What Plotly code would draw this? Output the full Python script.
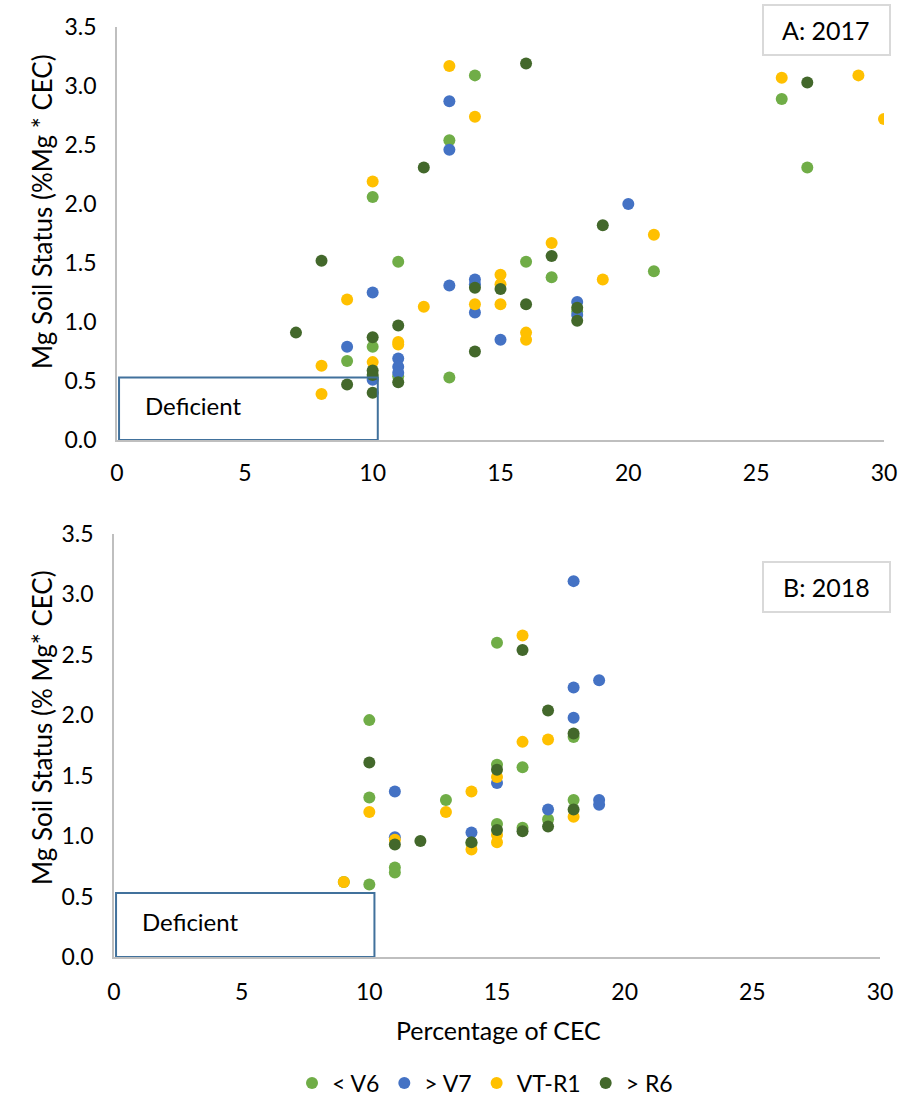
import plotly.graph_objects as go

# ---------------- data ----------------
series_names = ["< V6", "> V7", "VT-R1", "> R6"]
series_colors = ["#70AD47", "#4472C4", "#FFC000", "#43682B"]

# Panel A: 2017
a_v6_x = [14, 13, 10, 11, 16, 17, 21, 26, 27, 9, 10, 13, 18, 11, 10]
a_v6_y = [3.09, 2.54, 2.06, 1.51, 1.51, 1.38, 1.43, 2.89, 2.31, 0.67, 0.79, 0.53, 1.09, 0.54, 0.53]

a_v7_x = [13, 13, 20, 10, 13, 14, 14, 15, 18, 18, 9, 10, 11, 11, 11, 14]
a_v7_y = [2.87, 2.46, 2.00, 1.25, 1.31, 1.36, 1.08, 0.85, 1.17, 1.06, 0.79, 0.51, 0.69, 0.62, 0.57, 1.32]

a_vt_x = [13, 14, 10, 26, 29, 30, 17, 21, 19, 9, 12, 14, 15, 15, 15, 16, 16, 8, 8, 10, 11, 11]
a_vt_y = [3.17, 2.74, 2.19, 3.07, 3.09, 2.72, 1.67, 1.74, 1.36, 1.19, 1.13, 1.15, 1.40, 1.32, 1.15, 0.91, 0.85, 0.63, 0.39, 0.66, 0.83, 0.81]

a_r6_x = [16, 12, 27, 19, 8, 17, 14, 15, 16, 18, 18, 14, 7, 9, 10, 10, 10, 10, 11, 11]
a_r6_y = [3.19, 2.31, 3.03, 1.82, 1.52, 1.56, 1.29, 1.28, 1.15, 1.12, 1.01, 0.75, 0.91, 0.47, 0.87, 0.59, 0.55, 0.40, 0.97, 0.49]

# Panel B: 2018
b_v6_x = [15, 10, 18, 15, 16, 10, 13, 17, 18, 11, 11, 14, 15, 16, 10, 9]
b_v6_y = [2.60, 1.96, 1.82, 1.59, 1.57, 1.32, 1.30, 1.14, 1.30, 0.74, 0.70, 0.94, 1.10, 1.07, 0.60, 0.62]

b_v7_x = [18, 19, 18, 18, 15, 11, 17, 19, 19, 11, 14]
b_v7_y = [3.11, 2.29, 2.23, 1.98, 1.44, 1.37, 1.22, 1.30, 1.26, 0.99, 1.03]

b_vt_x = [16, 16, 17, 15, 14, 10, 13, 18, 11, 14, 15, 15, 9]
b_vt_y = [2.66, 1.78, 1.80, 1.49, 1.37, 1.20, 1.20, 1.16, 0.97, 0.89, 1.01, 0.95, 0.62]

b_r6_x = [16, 17, 18, 10, 15, 17, 18, 11, 12, 14, 15, 16]
b_r6_y = [2.54, 2.04, 1.85, 1.61, 1.55, 1.08, 1.22, 0.93, 0.96, 0.95, 1.05, 1.04]

x_ticks = [0, 5, 10, 15, 20, 25, 30]
y_ticks = [0.0, 0.5, 1.0, 1.5, 2.0, 2.5, 3.0, 3.5]
deficient_x = 10.2
deficient_y = 0.53

# ---------------- figure ----------------
W, H = 902, 1101
FONT = "Lato"
fig = go.Figure()

panel_a = [(a_v6_x, a_v6_y), (a_v7_x, a_v7_y), (a_vt_x, a_vt_y), (a_r6_x, a_r6_y)]
panel_b = [(b_v6_x, b_v6_y), (b_v7_x, b_v7_y), (b_vt_x, b_vt_y), (b_r6_x, b_r6_y)]

for i, (xs, ys) in enumerate(panel_a):
    fig.add_trace(go.Scatter(x=xs, y=ys, mode="markers", name=series_names[i],
                             marker=dict(color=series_colors[i], size=12),
                             xaxis="x", yaxis="y", showlegend=False))
for i, (xs, ys) in enumerate(panel_b):
    fig.add_trace(go.Scatter(x=xs, y=ys, mode="markers", name=series_names[i],
                             marker=dict(color=series_colors[i], size=12),
                             xaxis="x2", yaxis="y2", showlegend=True))

def px_x(p):
    return p / W

def px_y(p):
    return 1 - p / H

axis_common = dict(showgrid=False, zeroline=False, showline=True, linecolor="#BFBFBF",
                   linewidth=1.5, ticks="", automargin=False,
                   tickfont=dict(family=FONT, size=23, color="#000000"))

fig.update_layout(
    width=W, height=H,
    margin=dict(l=0, r=0, t=0, b=0, pad=0, autoexpand=False),
    paper_bgcolor="white", plot_bgcolor="white",
    font=dict(family=FONT, color="#000000"),
    xaxis=dict(domain=[px_x(117), px_x(884)], range=[0, 30], tickvals=x_ticks,
               anchor="y", ticklabelstandoff=12, **axis_common),
    yaxis=dict(domain=[px_y(440), px_y(27)], range=[0, 3.5], tickvals=y_ticks,
               tickformat=".1f", anchor="x", ticklabelstandoff=14, **axis_common),
    xaxis2=dict(domain=[px_x(114), px_x(880)], range=[0, 30], tickvals=x_ticks,
                anchor="y2", ticklabelstandoff=14, **axis_common),
    yaxis2=dict(domain=[px_y(957), px_y(534)], range=[0, 3.5], tickvals=y_ticks,
                tickformat=".1f", anchor="x2", ticklabelstandoff=14, **axis_common),
    legend=dict(orientation="h", x=px_x(292), xanchor="left", y=px_y(1083), yanchor="middle",
                font=dict(family=FONT, size=23), itemwidth=30, bgcolor="rgba(0,0,0,0)"),
)

shapes = []
annotations = []
# Deficient boxes
for xr, yr in (("x", "y"), ("x2", "y2")):
    shapes.append(dict(type="rect", xref=xr, yref=yr, x0=0.08, x1=deficient_x, y0=0, y1=deficient_y,
                       line=dict(color="#41719C", width=2), fillcolor="rgba(0,0,0,0)"))
    annotations.append(dict(xref=xr, yref=yr, x=1.0, y=0.29, text="Deficient", showarrow=False,
                            xanchor="left", yanchor="middle", font=dict(family=FONT, size=24)))

# Panel labels
for label, top in (("A: 2017", 5), ("B: 2018", 562)):
    shapes.append(dict(type="rect", xref="paper", yref="paper", x0=px_x(763), x1=px_x(890),
                       y0=px_y(top + 50), y1=px_y(top), line=dict(color="#D9D9D9", width=2),
                       fillcolor="white"))
    annotations.append(dict(xref="paper", yref="paper", x=px_x(826), y=px_y(top + 25), text=label,
                            showarrow=False, xanchor="center", yanchor="middle",
                            font=dict(family=FONT, size=25)))

# Axis titles
annotations.append(dict(xref="paper", yref="paper", x=px_x(42), y=px_y(212),
                        text="Mg Soil Status (%Mg * CEC)", textangle=-90, showarrow=False,
                        xanchor="center", yanchor="middle", font=dict(family=FONT, size=26)))
annotations.append(dict(xref="paper", yref="paper", x=px_x(42), y=px_y(728),
                        text="Mg Soil Status (% Mg* CEC)", textangle=-90, showarrow=False,
                        xanchor="center", yanchor="middle", font=dict(family=FONT, size=26)))
annotations.append(dict(xref="paper", yref="paper", x=px_x(498), y=px_y(1030),
                        text="Percentage of CEC", showarrow=False,
                        xanchor="center", yanchor="middle", font=dict(family=FONT, size=25)))

fig.update_layout(shapes=shapes, annotations=annotations)
fig.write_html("out.html", post_script="document.body.style.margin='0';")
